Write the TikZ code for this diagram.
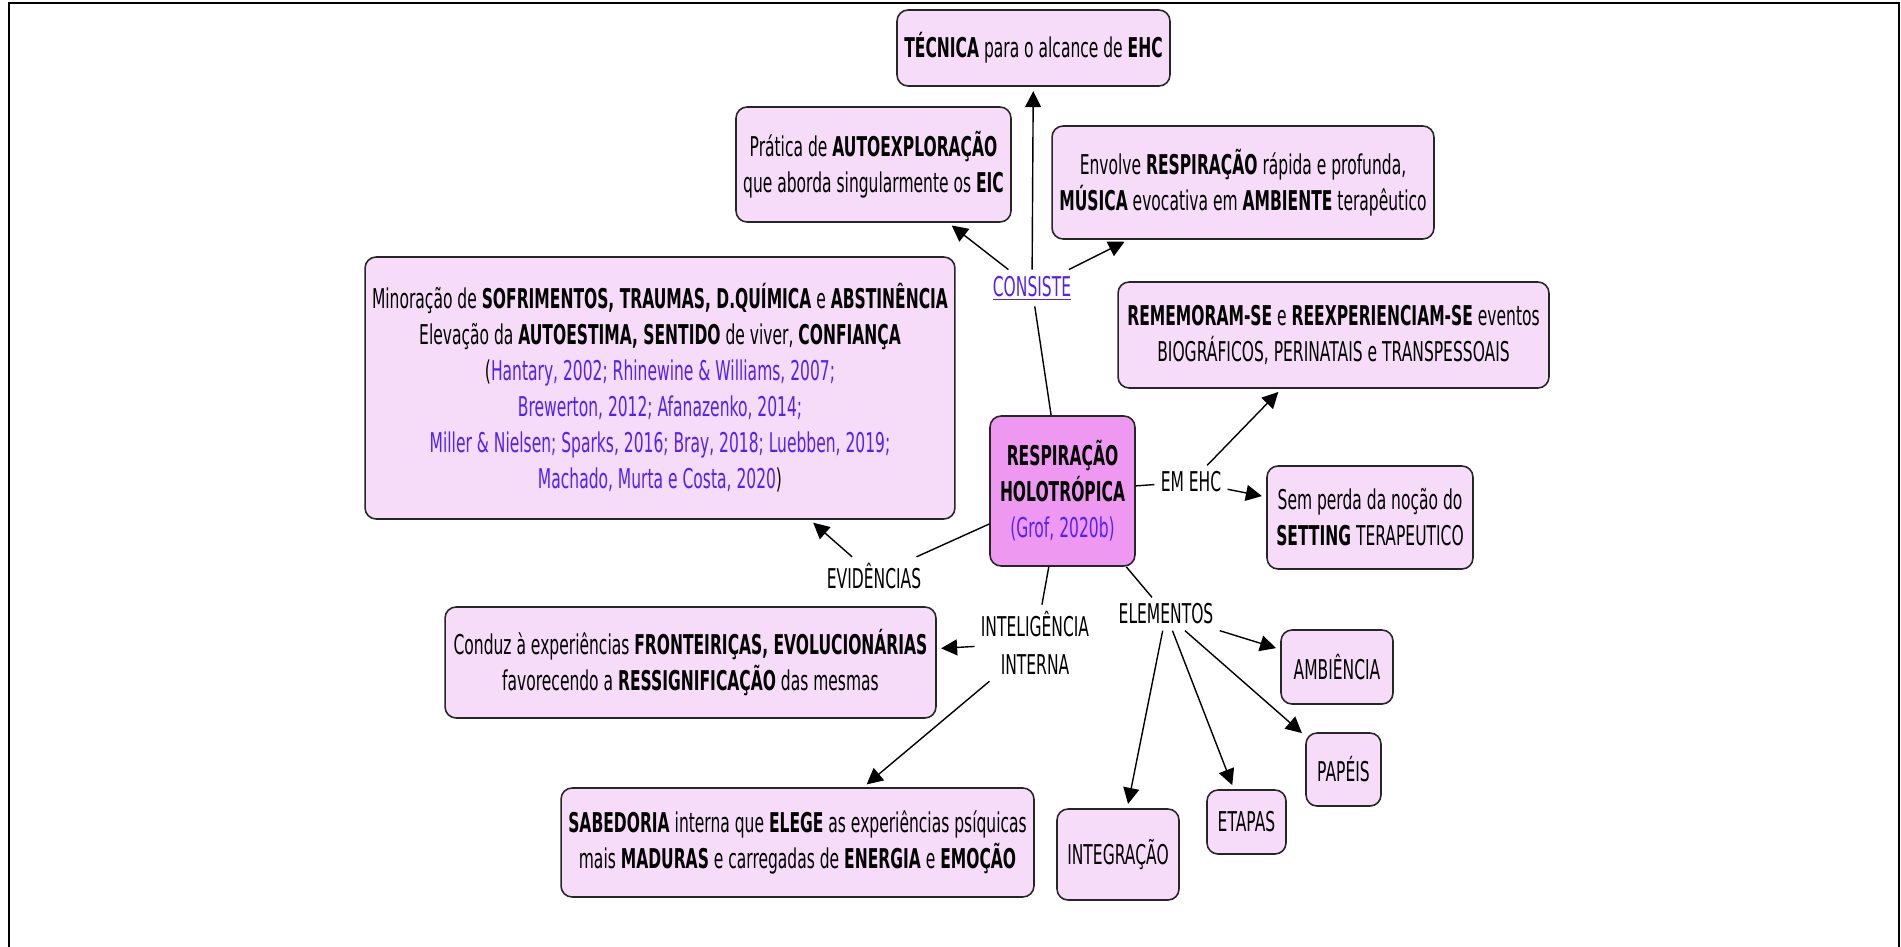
\documentclass[tikz,border=0pt]{standalone}
\usepackage{fontspec}
\setmainfont{DejaVu Sans}[FakeStretch=0.57]
\usepackage{tikz}
\usetikzlibrary{arrows.meta}

\definecolor{boxpink}{RGB}{246,220,248}
\definecolor{corepink}{RGB}{238,152,242}
\definecolor{refblue}{RGB}{84,32,250}

\begin{document}
\begin{tikzpicture}[x=0.02cm, y=-0.02cm,
    font=\fontsize{15.5}{20.5}\selectfont,
    concept/.style={draw=black!85, line width=0.9pt, rounded corners=0.22cm, fill=boxpink, align=center, inner sep=0pt},
    link/.style={inner sep=0.12cm, align=center},
    arrow/.style={-{Triangle[length=0.32cm, width=0.32cm]}, line width=0.8pt, shorten >=2.5pt},
    linkline/.style={line width=0.8pt}]
    \useasboundingbox (0,0) rectangle (1901,947);

    % Frame (open at the bottom)
    \draw[line width=1.5pt] (9,947) -- (9,3) -- (1899,3) -- (1899,947);

    % Central concept
    \node[concept, fill=corepink, minimum width=2.9cm, minimum height=3.0cm] (core) at (1062.5,491)
        {\textbf{RESPIRAÇÃO}\\\textbf{HOLOTRÓPICA}\\\textcolor{refblue}{(Grof, 2020b)}};

    % Linking phrases
    \node[link, text=refblue] (consiste) at (1032,288) {\underline{CONSISTE}};
    \node[link] (emehc) at (1191,482) {EM EHC};
    \node[link] (evidencias) at (874,576) {EVIDÊNCIAS};
    \node[link, font=\fontsize{15.5}{22}\selectfont] (inteligencia) at (1035,643) {INTELIGÊNCIA\\INTERNA};
    \node[link] (elementos) at (1166,614) {ELEMENTOS};

    % Concept boxes
    \node[concept, minimum width=5.46cm, minimum height=1.52cm] (tecnica) at (1033.5,48)
        {\textbf{TÉCNICA} para o alcance de \textbf{EHC}};
    \node[concept, minimum width=5.5cm, minimum height=2.3cm] (pratica) at (873.5,164.5)
        {Prática de \textbf{AUTOEXPLORAÇÃO}\\que aborda singularmente os \textbf{EIC}};
    \node[concept, minimum width=7.64cm, minimum height=2.26cm] (envolve) at (1243,182.5)
        {Envolve \textbf{RESPIRAÇÃO} rápida e profunda,\\\textbf{MÚSICA} evocativa em \textbf{AMBIENTE} terapêutico};
    \node[concept, minimum width=11.8cm, minimum height=5.24cm] (minoracao) at (660,388)
        {Minoração de \textbf{SOFRIMENTOS, TRAUMAS, D.QUÍMICA} e \textbf{ABSTINÊNCIA}\\
         Elevação da \textbf{AUTOESTIMA, SENTIDO} de viver, \textbf{CONFIANÇA}\\
         (\textcolor{refblue}{Hantary, 2002; Rhinewine \& Williams, 2007;}\\
         \textcolor{refblue}{Brewerton, 2012; Afanazenko, 2014;}\\
         \textcolor{refblue}{Miller \& Nielsen; Sparks, 2016; Bray, 2018; Luebben, 2019;}\\
         \textcolor{refblue}{Machado, Murta e Costa, 2020})};
    \node[concept, minimum width=8.62cm, minimum height=2.12cm] (rememoram) at (1333.5,335)
        {\textbf{REMEMORAM-SE} e \textbf{REEXPERIENCIAM-SE} eventos\\BIOGRÁFICOS, PERINATAIS e TRANSPESSOAIS};
    \node[concept, minimum width=4.12cm, minimum height=2.06cm] (semperda) at (1370,517.5)
        {Sem perda da noção do\\\textbf{SETTING} TERAPEUTICO};
    \node[concept, minimum width=9.82cm, minimum height=2.22cm] (conduz) at (690.5,662.5)
        {Conduz à experiências \textbf{FRONTEIRIÇAS, EVOLUCIONÁRIAS}\\favorecendo a \textbf{RESSIGNIFICAÇÃO} das mesmas};
    \node[concept, minimum width=9.46cm, minimum height=2.18cm] (sabedoria) at (797.5,842.5)
        {\textbf{SABEDORIA} interna que \textbf{ELEGE} as experiências psíquicas\\mais \textbf{MADURAS} e carregadas de \textbf{ENERGIA} e \textbf{EMOÇÃO}};
    \node[concept, minimum width=2.24cm, minimum height=1.48cm] (ambiencia) at (1337,667) {AMBIÊNCIA};
    \node[concept, minimum width=1.5cm, minimum height=1.46cm] (papeis) at (1343.5,769.5) {PAPÉIS};
    \node[concept, minimum width=1.58cm, minimum height=1.28cm] (etapas) at (1246.5,822) {ETAPAS};
    \node[concept, minimum width=2.44cm, minimum height=1.82cm] (integracao) at (1118,854.5) {INTEGRAÇÃO};

    % Lines from the central concept to the linking phrases
    \foreach \l in {consiste, emehc, evidencias, inteligencia, elementos}
        \draw[linkline] (core) -- (\l);

    % Arrows from the linking phrases to the concepts
    \foreach \t in {tecnica, pratica, envolve}
        \draw[arrow] (consiste) -- (\t);
    \draw[arrow] (emehc) -- (rememoram);
    \draw[arrow] (emehc) -- (semperda);
    \draw[arrow] (evidencias) -- (minoracao);
    \draw[arrow] (inteligencia) -- (conduz);
    \draw[arrow] (inteligencia) -- (sabedoria);
    \foreach \t in {ambiencia, papeis, etapas, integracao}
        \draw[arrow] (elementos) -- (\t);
\end{tikzpicture}
\end{document}
